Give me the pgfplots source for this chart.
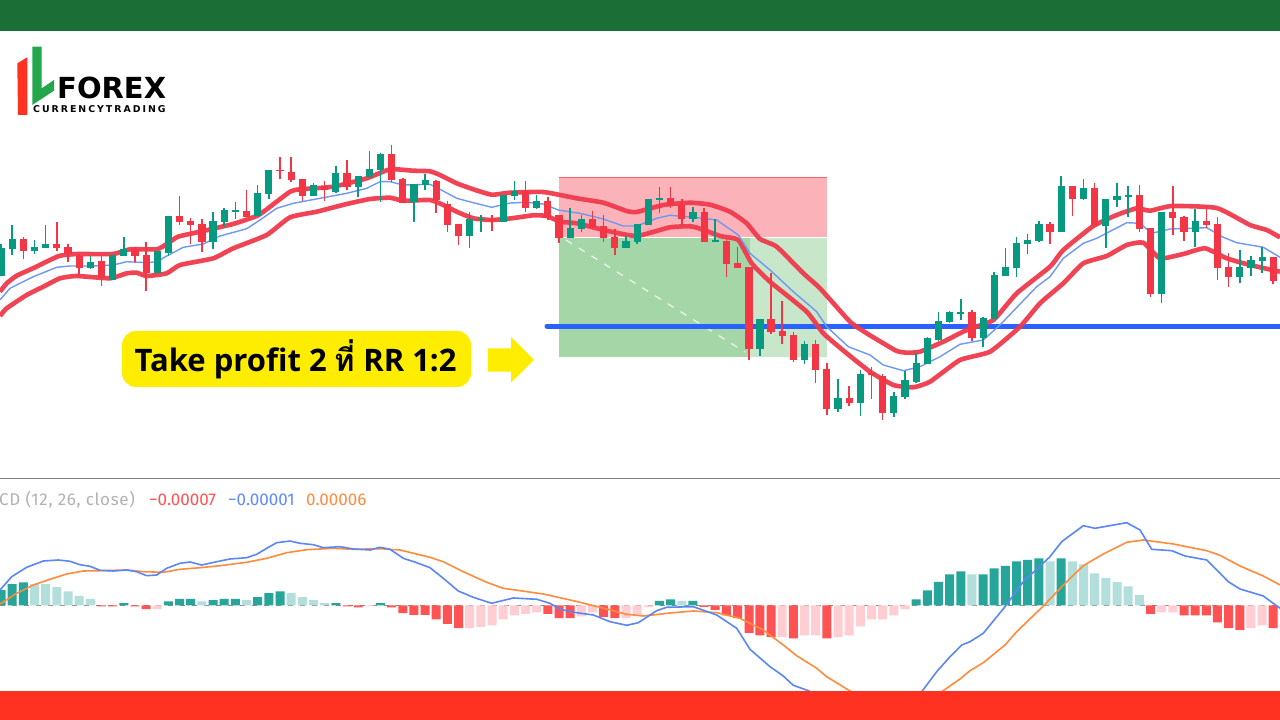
\documentclass[border=0pt]{standalone}
\usepackage{pgfplots}
\usepackage{pgfplotstable}
\usepackage{fontspec}
\pgfplotsset{compat=1.18}
\setmainfont{Open Sans}
\newfontfamily\thaifont[Script=Thai,BoldFont={Loma Bold}]{Loma}
\newfontfamily\macdfont{Fira Sans}
\newfontfamily\logofont{DejaVu Sans}
\definecolor{cgreen}{HTML}{089981}
\definecolor{cred}{HTML}{F23645}
\definecolor{band}{HTML}{F03A4C}
\definecolor{sma}{HTML}{6F97F5}
\definecolor{hline}{HTML}{2962FF}
\definecolor{hdark}{HTML}{26A69A}
\definecolor{hlight}{HTML}{B2DFDB}
\definecolor{hred}{HTML}{FF5252}
\definecolor{hpink}{HTML}{FFCDD2}
\definecolor{mblue}{HTML}{5B86F5}
\definecolor{morange}{HTML}{FF8B3D}
\definecolor{topbar}{HTML}{1B6E35}
\definecolor{botbar}{HTML}{FF3222}
\definecolor{yel}{HTML}{FFED00}
\definecolor{boxred}{HTML}{FBB3B9}
\definecolor{boxgl}{HTML}{C8E6C9}
\definecolor{boxgd}{HTML}{A5D6A7}
\definecolor{logogreen}{HTML}{24A64C}

\pgfplotstableread{
x bt bb wt wb
1 248.3 275.7 244 275.7
12.2 239.3 249.3 225.3 255.3
34.5 247 251.3 240 254
45.6 244 248 225.3 248
90.3 261.7 268 256 269.3
112.6 255.3 279.7 255.3 279.7
123.8 248.7 256.3 236.7 256.3
157.2 251.3 273.3 251.3 273.3
168.4 216.3 252.7 216.3 256.3
213 220.7 242 212 249.3
224.2 210.3 222.3 208 227.3
235.4 210.3 211.7 202 219.3
257.7 193.3 216 184.7 216
268.8 170 194.3 170 199
313.5 185 195.7 183 195.7
335.8 173 191.7 165.7 193.3
358.1 176.3 186.7 176.3 197
369.3 168.7 176.7 151.3 178.3
380.4 154 170 152.7 201.7
413.9 184.3 202 184.3 222
425.1 180.3 185.3 174 190
469.7 219.3 236.3 212.3 248
480.9 219 220.3 215 231.7
503.2 195 222 195 222
514.4 190.7 195.7 180.7 200.3
536.7 200.7 207.7 195 209
570.2 228 237.7 208 237.7
581.3 219.3 229 215.3 231.7
626 241.3 248 236 248
637.1 224 242 224 243.7
648.3 199.3 224.7 199.3 224.7
659.4 197.7 200 187.3 212.7
692.9 212.3 218.7 206.7 222
715.2 239.7 242 219.3 242
759.9 319.3 349.3 319.3 355.7
804.5 344 359.7 341.3 364
838 397.7 408.7 378.7 411.7
860.3 374.3 403.3 370 416
893.8 396.3 413 392.3 417.3
905 380.3 397.3 371.3 398.7
916.1 362.7 381.7 353.3 382.7
927.3 338 364 336.7 364
938.4 321 340 312.3 340.7
949.6 312 322 310.7 323.3
960.8 312.3 313.7 299.3 320
983.1 317.7 338.3 316.7 346.7
994.2 274.7 319.3 272 319.3
1005.4 267.3 275.7 248.3 275.7
1016.6 242.7 268 237.3 277
1027.7 239.7 244 234 254
1038.9 224 241 221 242
1061.2 186 232 176 232
1083.5 187.7 199 179 200.3
1105.8 199.3 226 199.3 248.3
1117 196.3 199.7 183.3 207.3
1128.2 194.7 197 186 217.3
1161.6 211.7 294.3 211.7 303.3
1195.1 220.7 232.3 209.3 246.7
1239.8 267.3 277.3 250 282.7
1250.9 260 268 256 275.7
1262.1 257 261 247.3 272.7
}\greencandles

\pgfplotstableread{
x bt bb wt wb
23.3 239.3 250.7 236.7 259.3
56.8 244 248.3 222.3 251.3
68 247 254 244 262.3
79.1 256 268 254 275.7
101.4 261.3 278 256 285.7
134.9 249.3 256.3 246.7 262.3
146.1 255.3 273.3 242.3 291.3
179.6 216.3 222 196 225
190.7 220.7 225 218 243.7
201.9 223.7 242.3 219.3 252.3
246.5 210.7 217.3 190.3 217.3
280 169.7 170.7 157.3 179.3
291.2 171.7 180 157 181.7
302.3 179 195.7 179 200.7
324.6 186 190 180.7 201.3
347 173 186.7 160 190
391.6 154 180 145.3 182.3
402.8 178.7 202.7 177.7 203.3
436.2 180.7 200 180 213.3
447.4 204 225 200.7 231.7
458.6 223.7 236.3 223.7 245
492 219 220.7 215 230.7
525.5 190.7 207.7 180.7 211.7
547.8 200.7 217.7 196.7 220
559 215.3 237.7 215.3 243.3
592.5 219.3 226.7 210.7 229
603.6 226 237.7 215 242.3
614.8 237 248 228.7 255
670.6 198 205.3 187.3 207.7
681.8 204.7 218.7 199.3 226
704.1 212.3 242 208 242
726.4 241 264 238.7 276.7
737.6 263 268.3 246.7 268.3
749 267.3 349.3 267.3 359.7
771 319.3 332 272.7 334
782.2 331 336.3 300.7 343.7
793.4 335.3 359.7 332.3 362.3
815.7 344 370 340 382.7
826.8 368.7 408.7 363.3 415
849.2 397.7 403.3 386 406.3
871.5 373.3 375.3 367.3 398.7
882.6 376 413 374 420.3
971.9 312.3 338.3 310 340.7
1050 223.7 232 222.3 244
1072.4 186 199 186 216
1094.7 187.7 226 183.3 226.7
1139.3 195 229 184.7 232.3
1150.5 228.3 294.3 228.3 297.3
1172.8 212 217.7 186 235
1184 216.7 232.3 216 240.7
1206.3 220.7 225 205.3 227.7
1217.4 224 268.3 216.7 280
1228.6 267.3 277.3 252.7 287.3
1273.2 257 281.3 257 284.3
}\redcandles

\pgfplotstableread{
x h
1 15.7
12.2 21.3
23.3 23
123.8 2.3
168.4 4
179.6 6.7
190.7 6.7
213 5.3
224.2 6.7
235.4 6.7
257.7 8.3
268.8 12.3
280 14
335.8 2.3
380.4 2.3
659.4 4.7
670.6 6
692.9 4.7
916.1 6
927.3 15
938.4 23.7
949.6 31
960.8 34
983.1 31
994.2 37
1005.4 39.7
1016.6 44
1027.7 45.7
1038.9 47
1061.2 47
}\histdark

\pgfplotstableread{
x h
34.5 21.3
45.6 21.3
56.8 18.3
68 14
79.1 9.7
90.3 6.7
201.9 4
246.5 5.3
291.2 12.3
302.3 8.3
313.5 5.3
324.6 2.3
681.8 4.7
971.9 31
1050 44
1072.4 44
1083.5 41
1094.7 32
1105.8 27.7
1117 23.3
1128.2 19
1139.3 10.3
}\histlight

\pgfplotstableread{
x h
101.4 -1
112.6 -1
134.9 -1
146.1 -3.7
347 -1
358.1 -2
391.6 -2
402.8 -7.7
413.9 -9.3
425.1 -9.3
436.2 -14
447.4 -18.3
458.6 -22.7
547.8 -8.3
559 -12.7
570.2 -12.7
603.6 -11.3
614.8 -12.7
704.1 -1.3
715.2 -4.3
726.4 -10
737.6 -12.7
749 -27.3
759.9 -30
771 -31.7
793.4 -33
826.8 -33
1150.5 -8.3
1184 -10
1195.1 -10
1206.3 -10
1217.4 -17
1228.6 -22.7
1239.8 -24.3
1273.2 -22.7
}\histred

\pgfplotstableread{
x h
157.2 -3.7
369.3 -1
469.7 -22.7
480.9 -21.3
492 -20
503.2 -14
514.4 -10
525.5 -8.3
536.7 -7
581.3 -11
592.5 -7
626 -12.7
637.1 -10
648.3 -1.7
782.2 -31.7
804.5 -30
815.7 -30
838 -31.7
849.2 -30
860.3 -21
871.5 -14
882.6 -14
893.8 -10
905 -4
1161.6 -7
1172.8 -7
1250.9 -22.7
1262.1 -20
}\histpink

\pgfplotsset{
  canvas/.style={at={(0pt,0pt)},anchor=south west,width=1280pt,height=720pt,scale only axis,hide axis,xmin=0,xmax=1280,clip=true},
}
\newcommand{\candles}[2]{%
  \addplot[draw=none,mark=none,forget plot,error bars/.cd,y dir=plus,y explicit,error mark=none,error bar style={line width=1.5pt,color=#2}]
    table[x=x,y=wt,y error plus expr=\thisrow{wb}-\thisrow{wt}] {#1};
  \addplot[draw=none,mark=none,forget plot,error bars/.cd,y dir=plus,y explicit,error mark=none,error bar style={line width=7.2pt,color=#2}]
    table[x=x,y=bt,y error plus expr=\thisrow{bb}-\thisrow{bt}] {#1};
}

\begin{document}
\begin{tikzpicture}[x=1pt,y=1pt]
\path[use as bounding box,fill=white] (0,0) rectangle (1280,720);
% ---------- price panel (axis units are picture pixels, y downwards)
\begin{axis}[canvas,ymin=0,ymax=720,y dir=reverse]
% position tool
\addplot[fill=boxred,draw=none] coordinates {(558.7,177.3)(827.3,177.3)(827.3,236.7)(558.7,236.7)} -- cycle;
\addplot[draw=red!45!boxred,line width=1pt] coordinates {(558.7,177.8)(827.3,177.8)};
\addplot[fill=boxgl,draw=none] coordinates {(750,238)(827.3,238)(827.3,356.7)(750,356.7)} -- cycle;
\addplot[fill=boxgd,draw=none] coordinates {(558.7,238)(750,238)(750,356.7)(558.7,356.7)} -- cycle;
\addplot[white,line width=1.3pt,dash pattern=on 7pt off 8pt,opacity=.75] coordinates {(566,240)(745,352)};
% horizontal level
\addplot[hline,line width=5pt,line cap=round] coordinates {(547,326)(1285,326)};
% envelope
\addplot[band,line width=4.6pt,line join=round,opacity=.95,smooth,tension=.3] coordinates {
(0,316)(6.7,308.3)(26.7,295)(43.3,286.7)(60,278.3)(76.7,276)(110,278.3)(126.7,273.3)(136.7,272.7)(146.7,276)(166.7,273.3)(180,265)(213.3,258.3)(233.3,248.3)(266.7,235)(290,217.3)(316.7,211.7)(346.7,204)(370,199)(390,197.7)(403.3,200.7)(430,200)(443.3,205)(456.7,211.7)(473.3,218.3)(491.7,220)(511.7,218.3)(533.3,215.3)(546.7,216)(560,221.7)(576.7,223.3)(606.7,230.7)(636.7,236)(670,227.3)(693.3,226.7)(720,236)(738.3,240)(751.7,263.3)(770,281.7)(806.7,311.7)(823.3,333.3)(846.7,353.3)(870,371.7)(893.3,385)(913.3,387.3)(930,381.7)(960,360)(990,351.7)(1020,326.7)(1040,303.3)(1063.3,283.3)(1083.3,263.3)(1106.7,256)(1126.7,245)(1143.3,242.7)(1160,258.3)(1183.3,254)(1205,248.3)(1226.7,258.3)(1250,265)(1280,271.7)};
\addplot[band,line width=4.6pt,line join=round,opacity=.95,smooth,tension=.3] coordinates {
(0,291.7)(6.7,283.3)(16.7,275.7)(33,268.3)(50,260)(60,255.7)(76.7,254)(113,254)(130,249.3)(156.7,249.3)(166.7,244)(178,236.7)(200,231.7)(233,224)(256.7,216)(266.7,209.3)(290,191.7)(300,189.3)(333,186.7)(366.7,178.3)(390,169.3)(413,170.7)(430,171.3)(440,175)(456.7,183.3)(473.3,189.3)(491.7,194.7)(510,192.7)(543.3,192)(576.7,198.3)(603.3,202.7)(626.7,211)(636.7,212)(663.3,205)(690,202.7)(710,204.7)(730,211.7)(746.7,223.3)(760,239)(776.7,246.7)(803.3,273.3)(820,288.3)(850,321.7)(866.7,333.3)(883.3,343.3)(896.7,351)(906.7,352.7)(920,351.7)(943.3,341.7)(966.7,330)(993.3,320)(1016.7,293.3)(1050,266.7)(1063.3,250)(1093.3,226)(1116.7,215)(1136.7,208.3)(1150,210.7)(1171.7,206)(1216.7,208)(1250,225)(1266.7,230)(1280,237.3)};
\addplot[sma,line width=1.4pt,line join=round] coordinates {
(0,300)(10,288.3)(33.3,276.7)(56.7,267.3)(70,266)(93.3,266)(113.3,265)(126.7,261.7)(146.7,262.7)(156.7,261.7)(166.7,256)(183.3,247.3)(203.3,244)(220,236)(246.7,228.7)(260,220)(276.7,208.3)(293.3,203.3)(320,198.3)(346.7,193.3)(366.7,188.3)(380,181.7)(390,181.7)(403.3,185)(430,184.3)(440,189.3)(456.7,198.3)(473.3,202.7)(491.7,207.3)(510,203)(526.7,202.3)(543.3,204)(558.3,210)(580,213.3)(603.3,219)(623.3,226)(636.7,226)(656.7,218.3)(670,215.3)(693.3,217.3)(716.7,220)(738.3,235)(750,253.3)(770,270)(793.3,291.7)(816.7,311.7)(826.7,326.7)(848.3,346.7)(870,355)(883.3,365)(903.3,370.7)(920,366.7)(940,356.7)(960,344.3)(983.3,340)(1000,325)(1036.7,286.7)(1050,276.7)(1063.3,258.3)(1083.3,243.3)(1096.7,238.3)(1126.7,222.7)(1140,223.3)(1151.7,233.3)(1170,229)(1206.7,227.7)(1223.3,237.3)(1236.7,242.7)(1263.3,247.3)(1280,257.3)};
% candles
\candles{\greencandles}{cgreen}
\candles{\redcandles}{cred}
% panel separator
\addplot[gray,line width=1pt] coordinates {(0,478)(1280,478)};
\end{axis}
% ---------- MACD panel (zero line at pixel row 605.5, heights in pixels)
\begin{axis}[canvas,ymin=-114.5,ymax=605.5,ybar,bar width=9pt,bar shift=0pt]
\addplot[black!45,line width=.8pt,dash pattern=on 5pt off 7pt,sharp plot] coordinates {(0,0.5)(1280,0.5)};
\addplot[fill=hdark,draw=none] table[x=x,y=h] {\histdark};
\addplot[fill=hlight,draw=none] table[x=x,y=h] {\histlight};
\addplot[fill=hred,draw=none] table[x=x,y=h] {\histred};
\addplot[fill=hpink,draw=none] table[x=x,y=h] {\histpink};
\addplot[sharp plot,morange,line width=1.6pt,line join=round] coordinates {
(0,1.5)(16.7,12.2)(33.3,20.5)(50,26.2)(66.7,31.5)(83.3,34.5)(100,34.8)(126.7,35.5)(143.3,33.8)(163.3,33.2)(180,36.2)(200,37.8)(220,39.8)(246.7,43.2)(266.7,47.2)(286.7,52.8)(306.7,55.8)(333.3,57.2)(353.3,56.2)(380,56.8)(400,55.5)(430,48.2)(443.3,43.8)(463.3,33.8)(486.7,23.2)(503.3,17.2)(543.3,11.5)(573.3,4.8)(600,-1.8)(626.7,-8.8)(643.3,-10.5)(670,-7.5)(693.3,-5.5)(716.7,-7.2)(740,-12.8)(763.3,-24.5)(783.3,-39.5)(796.7,-50.2)(816.7,-62.8)(826.7,-71.2)(850,-85.5)(880,-100)(930,-95)(941.7,-86.2)(960,-73.5)(970,-65.2)(983.3,-57.2)(1005,-39.5)(1016.7,-26.2)(1043.3,-0.5)(1066.7,23.8)(1083.3,39.8)(1103.3,51.5)(1126.7,63.2)(1143.3,65.5)(1173.3,61.5)(1206.7,54.8)(1220,50.2)(1240,39.5)(1263.3,29.5)(1280,20.5)};
\addplot[sharp plot,mblue,line width=1.6pt,line join=round] coordinates {
(0,15.5)(11.7,28.8)(26.7,38.2)(43.3,44.5)(58.3,45.5)(70,44.2)(80,40.8)(90,39.2)(100,35.2)(113.3,34.5)(126.7,35.5)(136.7,33.8)(146.7,29.8)(156.7,30.5)(166.7,37.2)(180,42.2)(190,43.5)(201.7,40.5)(216.7,43.8)(230,46.5)(246.7,47.8)(256.7,51.2)(266.7,57.2)(276.7,62.8)(290,64.5)(300,62.2)(313.3,60.8)(323.3,57.8)(340,58.8)(353.3,56.5)(370,55.5)(380,58.2)(390,56.2)(403.3,47.2)(416.7,42.8)(430,37.8)(443.3,27.2)(458.3,14.5)(473.3,8.2)(491.7,2.2)(513.3,7.5)(536.7,6.2)(550,2.2)(560,-3.8)(576.7,-7.2)(593.3,-9.5)(610,-16.2)(626.7,-19.8)(638.3,-17.2)(656.7,-5.2)(666.7,-1.8)(693.3,-1.2)(716.7,-9.5)(736.7,-22.8)(750,-43.8)(770,-61.2)(783.3,-70.5)(793.3,-79.8)(808.3,-85.2)(830,-95)(870,-105)(905,-100)(921.7,-86.2)(936.7,-66.2)(950,-51.2)(961.7,-39.5)(970,-36.2)(983.3,-27.8)(1005,-1.2)(1023.3,23.8)(1050,48.8)(1061.7,63.8)(1083.3,79.8)(1095,77.2)(1126.7,82.8)(1140,75.5)(1151.7,56.2)(1171.7,54.8)(1185,49.5)(1206.7,45.5)(1228.3,23.8)(1240,16.5)(1263.3,9.5)(1280,-2.8)};
\end{axis}
% ---------- frame, logo and annotations (picture y = 720 - pixel row)
\fill[topbar] (0,689) rectangle (1280,720);
\fill[botbar] (0,0) rectangle (1280,28.7);
\fill[yel,rounded corners=14pt] (122,333) rectangle (471,389);
\node[anchor=base west,inner sep=0,font=\fontsize{31}{31}\selectfont\bfseries] at (134.5,348) {Take profit 2 {\thaifont ที่} RR 1:2};
\fill[yel] (488,348.3) -- (511,348.3) -- (511,337.3) -- (534,360) -- (511,383) -- (511,371.7) -- (488,371.7) -- cycle;
\fill[botbar] (18,605) -- (27.3,605) -- (27.3,662.7) -- (17.3,656.7) -- cycle;
\fill[logogreen] (32.3,673.3) -- (41.7,673.3) -- (41.7,631.7) -- (54,640) -- (54,629.3) -- (32.3,615) -- cycle;
\node[anchor=base west,inner sep=0,font=\logofont\fontsize{29}{29}\selectfont\bfseries] at (57,621) {FOREX};
\node[anchor=base west,inner sep=0,font=\logofont\fontsize{9.4}{9.4}\selectfont\bfseries\addfontfeature{LetterSpace=21}] at (33,607) {CURRENCYTRADING};
\begin{scope}[every node/.style={anchor=base west,inner sep=0,font=\macdfont\fontsize{17}{17}\selectfont}]
\node[text=black!30,font=\macdfont\fontsize{17}{17}\selectfont\addfontfeature{LetterSpace=4}] at (-1,214) {CD (12, 26, close)};
\node[text=hred] at (149,214) {−0.00007};
\node[text=hline!75] at (228,214) {−0.00001};
\node[text=morange] at (306,214) {0.00006};
\end{scope}
\end{tikzpicture}
\end{document}
